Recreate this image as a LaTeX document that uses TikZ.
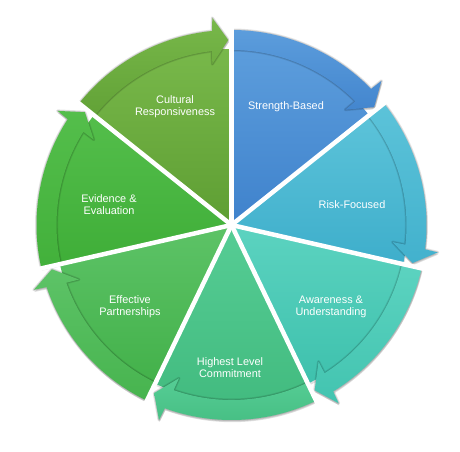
\documentclass[tikz,border=0pt]{standalone}
\usepackage{fontspec}
\setmainfont{Liberation Sans}
\newcommand{\segangles}[1]{%
  \pgfmathsetmacro\segE{#1-51.4286}%
  \pgfmathsetmacro\segA{\segE+5.7}%
  \pgfmathsetmacro\segB{\segE+5.3}%
  \pgfmathsetmacro\segT{\segE+1.0}%
  \pgfmathsetmacro\segC{\segE+6.8}%
  \pgfmathsetmacro\segD{\segE+6.4}%
}
\newcommand{\wedgepath}[1]{%
  (0,0) -- (#1:176) arc[start angle=#1, end angle=\segE, radius=176] -- cycle
}
\newcommand{\bandpath}[1]{%
  (#1:195) arc[start angle=#1, end angle=\segA, radius=195] -- (\segB:208) -- (\segT:185)
  -- (\segC:162) -- (\segD:175) arc[start angle=\segD, end angle=#1, radius=175] -- cycle
}
\newcommand{\segshadow}[1]{%
  \segangles{#1}%
  \fill[black, opacity=0.12, shift={(0.6,-2.2)}] \wedgepath{#1} \bandpath{#1};
}
\newcommand{\segwedge}[3]{%
  \segangles{#1}%
  \shade[top color=#2, bottom color=#3] \wedgepath{#1};
}
\newcommand{\segband}[3]{%
  \segangles{#1}%
  \draw[black, opacity=0.10, line width=3pt, line join=round] \bandpath{#1};
  \draw[black, opacity=0.12, line width=1.4pt, line join=round] \bandpath{#1};
  \shade[top color=#2, bottom color=#3] \bandpath{#1};
}
\definecolor{cultT}{HTML}{78B84A}\definecolor{cultB}{HTML}{5E9E33}
\definecolor{strT}{HTML}{5C9DDC}\definecolor{strB}{HTML}{3F82CC}
\definecolor{riskT}{HTML}{5CC3D9}\definecolor{riskB}{HTML}{3EAECB}
\definecolor{awaT}{HTML}{5CD3C0}\definecolor{awaB}{HTML}{3EC1AD}
\definecolor{highT}{HTML}{56CD95}\definecolor{highB}{HTML}{42BB7F}
\definecolor{effT}{HTML}{5DC367}\definecolor{effB}{HTML}{43B14A}
\definecolor{eviT}{HTML}{54BE4B}\definecolor{eviB}{HTML}{3FAE38}
\begin{document}
\begin{tikzpicture}[x=1pt,y=1pt,
  lbl/.style={text=white, font=\fontsize{10.9}{12}\selectfont, align=center, inner sep=0pt},
  gapline/.style={white, line width=4.5pt}]
\useasboundingbox (0,0) rectangle (460,451);
\fill[white] (0,0) rectangle (460,451);
\begin{scope}[shift={(231.5,226)}]
  \foreach \s in {141.4286, 90, 38.5714, -12.8571, -64.2857, -115.7143, -167.1429} {\segshadow{\s}}
  \segwedge{141.4286}{cultT}{cultB}
  \segwedge{90}{strT}{strB}
  \segwedge{38.5714}{riskT}{riskB}
  \segwedge{-12.8571}{awaT}{awaB}
  \segwedge{-64.2857}{highT}{highB}
  \segwedge{-115.7143}{effT}{effB}
  \segwedge{-167.1429}{eviT}{eviB}
  \segband{141.4286}{cultT}{cultB!85!cultT}
  \segband{90}{strT}{strB!85!strT}
  \segband{38.5714}{riskT}{riskB!85!riskT}
  \segband{-12.8571}{awaT}{awaB!85!awaT}
  \segband{-64.2857}{highT}{highB!85!highT}
  \segband{-115.7143}{effT}{effB!85!effT}
  \segband{-167.1429}{eviT}{eviB!85!eviT}
  \foreach \a in {141.4286, 90, 38.5714, -12.8571, -64.2857, -115.7143, -167.1429}
    {\draw[gapline] (0,0) -- (\a:198);}
  \fill[white] (0,0) circle (4.5);
\end{scope}
\node[lbl] (cult) at (175,344) {Cultural\\Responsiveness};
\node[lbl] (str) at (286,344) {Strength-Based};
\node[lbl] (risk) at (352,246) {Risk-Focused};
\node[lbl] (evi) at (109,246) {Evidence \&\\Evaluation};
\node[lbl] (eff) at (130,144) {Effective\\Partnerships};
\node[lbl] (high) at (230,83) {Highest Level\\Commitment};
\node[lbl] (awa) at (331,144) {Awareness \&\\Understanding};
\end{tikzpicture}
\end{document}
